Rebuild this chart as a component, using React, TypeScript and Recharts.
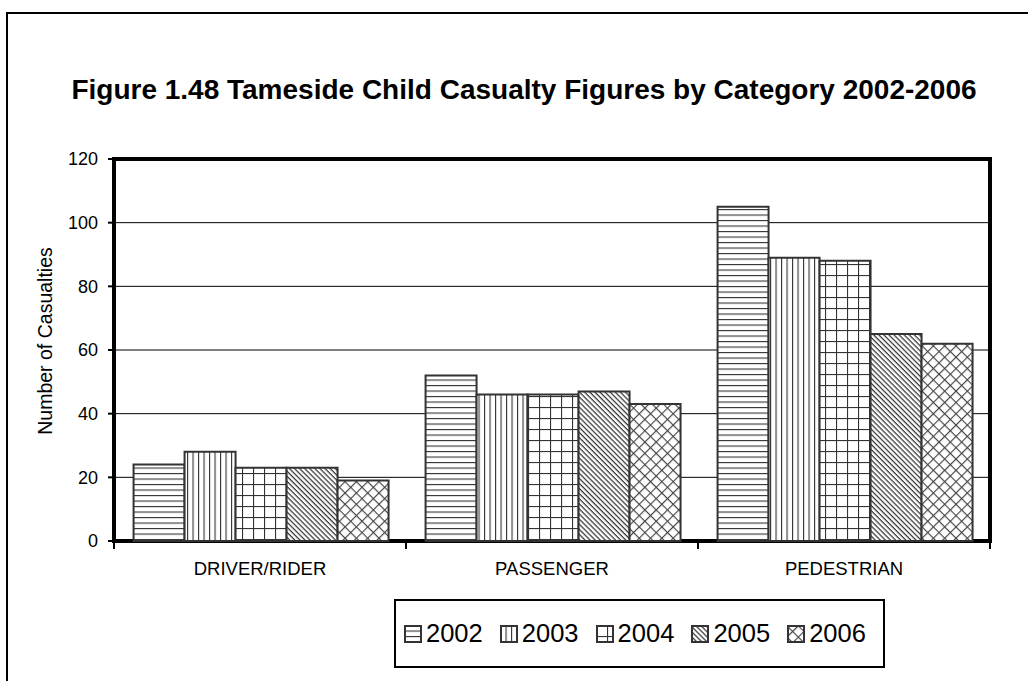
import React from "react";
import {
  BarChart,
  Bar,
  XAxis,
  YAxis,
  CartesianGrid,
  Legend,
  ReferenceArea,
} from "recharts";

const categories = ["DRIVER/RIDER", "PASSENGER", "PEDESTRIAN"];
const years = ["2002", "2003", "2004", "2005", "2006"];
const v2002 = [24, 52, 105];
const v2003 = [28, 46, 89];
const v2004 = [23, 46, 88];
const v2005 = [23, 47, 65];
const v2006 = [19, 43, 62];
const yTicks = [0, 20, 40, 60, 80, 100, 120];

const seriesValues = [v2002, v2003, v2004, v2005, v2006];

const data = categories.map((c, i) => {
  const row: Record<string, string | number> = { category: c };
  years.forEach((y, k) => {
    row[y] = seriesValues[k][i];
  });
  return row;
});

const FONT = "'Liberation Sans', Arial, sans-serif";
const EDGE = "#333";

const Patterns = () => (
  <defs>
    <pattern id="p2002" patternUnits="userSpaceOnUse" width="8" height="5.5">
      <rect width="8" height="5.5" fill="#fff" />
      <line x1="0" y1="0.5" x2="8" y2="0.5" stroke="#333" strokeWidth="1.2" />
    </pattern>
    <pattern id="p2003" patternUnits="userSpaceOnUse" width="5.5" height="8">
      <rect width="5.5" height="8" fill="#fff" />
      <line x1="0.5" y1="0" x2="0.5" y2="8" stroke="#333" strokeWidth="1.2" />
    </pattern>
    <pattern id="p2004" patternUnits="userSpaceOnUse" width="11" height="11">
      <rect width="11" height="11" fill="#fff" />
      <line x1="0.5" y1="0" x2="0.5" y2="11" stroke="#333" strokeWidth="1.2" />
      <line x1="0" y1="0.5" x2="11" y2="0.5" stroke="#333" strokeWidth="1.2" />
    </pattern>
    <pattern
      id="p2005"
      patternUnits="userSpaceOnUse"
      width="8"
      height="3.6"
      patternTransform="rotate(45)"
    >
      <rect width="8" height="3.6" fill="#fff" />
      <line x1="0" y1="0.6" x2="8" y2="0.6" stroke="#333" strokeWidth="1.3" />
    </pattern>
    <pattern
      id="p2006"
      patternUnits="userSpaceOnUse"
      width="8"
      height="8"
      patternTransform="rotate(45)"
    >
      <rect width="8" height="8" fill="#fff" />
      <line x1="0.5" y1="0" x2="0.5" y2="8" stroke="#444" strokeWidth="1.3" />
      <line x1="0" y1="0.5" x2="8" y2="0.5" stroke="#444" strokeWidth="1.3" />
    </pattern>
  </defs>
);

const CategoryTick = (props: any) => {
  const { x, y, payload, index, visibleTicksCount } = props;
  const half = payload.offset || 0;
  const last = index === visibleTicksCount - 1;
  return (
    <g>
      <line x1={x - half} y1={y} x2={x - half} y2={y + 8} stroke="#000" strokeWidth={2} />
      {last && (
        <line x1={x + half} y1={y} x2={x + half} y2={y + 8} stroke="#000" strokeWidth={2} />
      )}
      <text
        x={x}
        y={y + 34}
        textAnchor="middle"
        fontFamily={FONT}
        fontSize={18.5}
        fill="#000"
      >
        {payload.value}
      </text>
    </g>
  );
};

const YTitle = (props: any) => {
  const { viewBox } = props;
  const cx = viewBox.x + 18;
  const cy = viewBox.y + viewBox.height / 2 - 9;
  return (
    <text
      x={cx}
      y={cy}
      transform={`rotate(-90, ${cx}, ${cy})`}
      textAnchor="middle"
      fontFamily={FONT}
      fontSize={19.5}
      fill="#000"
    >
      Number of Casualties
    </text>
  );
};

const LegendBox = () => (
  <div
    style={{
      boxSizing: "border-box",
      width: 491,
      height: 69,
      border: "2px solid #000",
      display: "flex",
      alignItems: "center",
      paddingLeft: 8,
      fontFamily: FONT,
      fontSize: 25.5,
      color: "#000",
    }}
  >
    {years.map((y) => (
      <div key={y} style={{ display: "flex", alignItems: "center", width: 98 }}>
        <svg width={18} height={18} style={{ marginRight: 4 }}>
          <Patterns />
          <rect x={1} y={1} width={16} height={16} fill={`url(#p${y})`} stroke={EDGE} strokeWidth={2} />
        </svg>
        <span>{y}</span>
      </div>
    ))}
  </div>
);

export default function App() {
  return (
    <div
      style={{
        position: "absolute",
        left: 0,
        top: 0,
        width: 1028,
        height: 681,
        overflow: "hidden",
        background: "#fff",
      }}
    >
      <div
        style={{
          position: "absolute",
          left: 6,
          top: 12,
          width: 1100,
          height: 800,
          border: "2px solid #000",
          boxSizing: "border-box",
        }}
      />
      <div
        style={{
          position: "absolute",
          left: 0,
          top: 74,
          width: 1048,
          textAlign: "center",
          fontFamily: FONT,
          fontWeight: "bold",
          fontSize: 28,
          color: "#000",
        }}
      >
        Figure 1.48 Tameside Child Casualty Figures by Category 2002-2006
      </div>
      <div style={{ position: "absolute", left: 0, top: 0 }}>
        <BarChart
          width={1028}
          height={681}
          data={data}
          margin={{ top: 159, right: 38, bottom: 31, left: 34 }}
          barCategoryGap="6.7%"
          barGap={0}
        >
          <Patterns />
          <CartesianGrid vertical={false} stroke="#000" strokeWidth={1} />
          <XAxis
            dataKey="category"
            height={40}
            axisLine={false}
            tickLine={false}
            tickSize={0}
            tickMargin={0}
            tick={<CategoryTick />}
            interval={0}
          />
          <YAxis
            width={80}
            domain={[0, 120]}
            ticks={yTicks}
            axisLine={false}
            tickLine={{ stroke: "#000", strokeWidth: 2 }}
            tickSize={6}
            tickMargin={10}
            tick={{ fill: "#000", fontSize: 18, fontFamily: FONT }}
            label={<YTitle />}
          />
          {years.map((y) => (
            <Bar
              key={y}
              dataKey={y}
              fill={`url(#p${y})`}
              stroke={EDGE}
              strokeWidth={2}
              isAnimationActive={false}
            />
          ))}
          <ReferenceArea
            y1={0}
            y2={120}
            fill="none"
            stroke="#000"
            strokeWidth={4}
            ifOverflow="visible"
          />
          <Legend
            content={<LegendBox />}
            verticalAlign="bottom"
            wrapperStyle={{ left: 394, top: 599, bottom: "auto", width: 491, height: 69 }}
          />
        </BarChart>
      </div>
    </div>
  );
}
